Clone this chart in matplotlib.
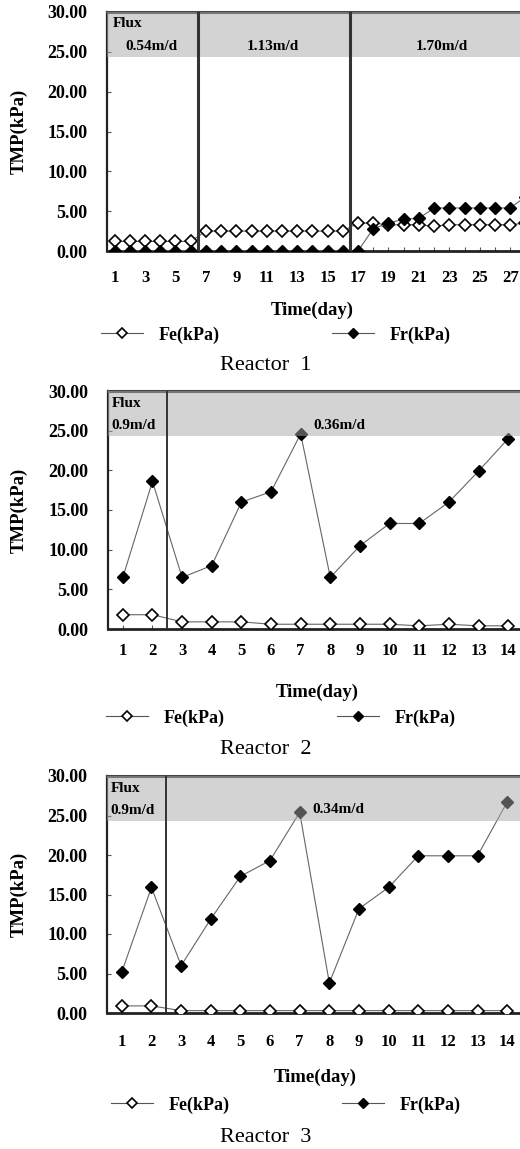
import matplotlib
matplotlib.use("Agg")
import matplotlib.pyplot as plt
from matplotlib.lines import Line2D

plt.rcParams["font.family"] = ["Liberation Serif", "DejaVu Serif"]
plt.rcParams["font.weight"] = "bold"

# Reactor 1 (28 days)
days1 = [1, 2, 3, 4, 5, 6, 7, 8, 9, 10, 11, 12, 13, 14,
         15, 16, 17, 18, 19, 20, 21, 22, 23, 24, 25, 26, 27, 28]
fe1 = [1.2, 1.2, 1.2, 1.2, 1.2, 1.2, 2.5, 2.5, 2.5, 2.5, 2.5, 2.5, 2.5, 2.5,
       2.5, 2.5, 3.5, 3.5, 3.3, 3.3, 3.3, 3.1, 3.3, 3.3, 3.3, 3.3, 3.3, 3.5]
fr1 = [0.0, 0.0, 0.0, 0.0, 0.0, 0.0, 0.0, 0.0, 0.0, 0.0, 0.0, 0.0, 0.0, 0.0,
       0.0, 0.0, 0.0, 2.8, 3.5, 4.0, 4.1, 5.4, 5.4, 5.4, 5.4, 5.4, 5.4, 6.8]
xticks1 = [1, 3, 5, 7, 9, 11, 13, 15, 17, 19, 21, 23, 25, 27]
flux1 = ["0.54m/d", "1.13m/d", "1.70m/d"]

# Reactor 2 (14 days)
days2 = [1, 2, 3, 4, 5, 6, 7, 8, 9, 10, 11, 12, 13, 14]
fe2 = [1.8, 1.8, 0.9, 0.9, 0.9, 0.6, 0.6, 0.6, 0.6, 0.6, 0.4, 0.6, 0.4, 0.4]
fr2 = [6.5, 18.6, 6.5, 8.0, 16.0, 17.3, 24.6, 6.5, 10.5, 13.3, 13.3, 16.0, 19.9, 24.0]
flux2 = ["0.9m/d", "0.36m/d"]

# Reactor 3 (14 days)
days3 = [1, 2, 3, 4, 5, 6, 7, 8, 9, 10, 11, 12, 13, 14]
fe3 = [0.9, 0.9, 0.3, 0.3, 0.3, 0.3, 0.3, 0.3, 0.3, 0.3, 0.3, 0.3, 0.3, 0.3]
fr3 = [5.2, 15.9, 6.0, 11.9, 17.3, 19.3, 25.4, 3.8, 13.2, 15.9, 19.9, 19.9, 19.9, 26.7]
flux3 = ["0.9m/d", "0.34m/d"]

yticks = [0, 5, 10, 15, 20, 25, 30]

W, H = 520, 1149
fig = plt.figure(figsize=(W / 100, H / 100), dpi=100)


def add_ax(left, top, right, bottom):
    return fig.add_axes([left / W, 1 - bottom / H, (right - left) / W, (bottom - top) / H])


def fx(px):
    return px / W


def fy(px):
    return 1 - px / H


panels = [
    dict(box=(107, 12, 533, 251), days=days1, fe=fe1, fr=fr1, xticks=xticks1,
         seps=[6.5, 16.5], sep_lw=2.2, pad=14, lab_y=[310, 335, 365], lab_x=[312, 276, 266],
         title="Reactor  1"),
    dict(box=(108, 391, 523, 629), days=days2, fe=fe2, fr=fr2, xticks=days2,
         seps=[2.5], sep_lw=1.4, pad=10, lab_y=[692, 718, 750], lab_x=[317, 281, 266],
         title="Reactor  2"),
    dict(box=(107, 776, 522, 1013), days=days3, fe=fe3, fr=fr3, xticks=days3,
         seps=[2.5], sep_lw=1.4, pad=15, lab_y=[1077, 1105, 1137], lab_x=[315, 286, 266],
         title="Reactor  3"),
]

for i, p in enumerate(panels):
    ax = add_ax(*p["box"])
    ax.plot(p["days"], p["fe"], color="#666666", lw=0.8, marker="D", ms=6.5,
            mfc="white", mec="black", mew=1.2, zorder=3)
    ax.plot(p["days"], p["fr"], color="#666666", lw=0.8, marker="D", ms=6.5,
            mfc="black", mec="black", zorder=4)
    # grey flux band drawn over the data (semi-transparent, like the original)
    ax.axhspan(24.3, 30, color="#a8a8a8", alpha=0.5, lw=0, zorder=5)
    for s in p["seps"]:
        ax.axvline(s, color="#333333", lw=p["sep_lw"], zorder=6)

    ax.set_xlim(p["days"][0] - 0.5, p["days"][-1] + 0.5)
    ax.set_ylim(0, 30)
    ax.set_xticks(p["xticks"])
    ax.set_xticks(p["days"], minor=True)
    ax.set_yticks(yticks)
    ax.set_yticklabels(["%.2f" % v for v in yticks])
    ax.tick_params(axis="x", which="both", direction="in", length=3, width=0.8,
                   pad=p["pad"], labelsize=12, color="#555555")
    ax.tick_params(axis="y", direction="in", length=3, width=0.8, pad=14,
                   labelsize=13, color="#555555")
    for side, lw, col in [("left", 1.6, "#222222"), ("bottom", 2.0, "#222222"),
                          ("top", 2.2, "#444444"), ("right", 1.6, "#222222")]:
        ax.spines[side].set_linewidth(lw)
        ax.spines[side].set_color(col)

    # flux labels
    if i == 0:
        ax.text(0.85, 28.5, "Flux", fontsize=11, ha="left", va="center", zorder=7)
        for xc, t in zip([3.4, 11.4, 22.5], flux1):
            ax.text(xc, 25.7, t, fontsize=11, ha="center", va="center", zorder=7)
    else:
        flux = flux2 if i == 1 else flux3
        ax.text(0.63, 28.4, "Flux", fontsize=11, ha="left", va="center", zorder=7)
        ax.text(0.63, 25.6, flux[0], fontsize=11, ha="left", va="center", zorder=7)
        ax.text(7.42, 25.7, flux[1], fontsize=11, ha="left", va="center", zorder=7)

    # y label
    top, bottom = p["box"][1], p["box"][3]
    fig.text(fx(19), fy((top + bottom) / 2), "TMP(kPa)", rotation=90,
             fontsize=13.5, ha="center", va="center")

    ly = p["lab_y"]
    lx = p["lab_x"]
    fig.text(fx(lx[0]), fy(ly[0]), "Time(day)", fontsize=13.5, ha="center", va="center")
    handles = [
        Line2D([], [], color="#555555", lw=0.8, marker="D", ms=5.5, mfc="white",
               mec="black", mew=1.2),
        Line2D([], [], color="#555555", lw=0.8, marker="D", ms=5.5, mfc="black",
               mec="black"),
    ]
    fig.legend(handles, ["Fe(kPa)", "Fr(kPa)"], loc="center",
               bbox_to_anchor=(fx(lx[1]), fy(ly[1])), ncol=2, frameon=False,
               fontsize=13, handlelength=2.3, handletextpad=0.9,
               columnspacing=6.2, borderpad=0, borderaxespad=0)
    fig.text(fx(lx[2]), fy(ly[2]), p["title"], fontsize=16, fontweight="normal",
             ha="center", va="center")

fig.savefig("out.png", dpi=100)
